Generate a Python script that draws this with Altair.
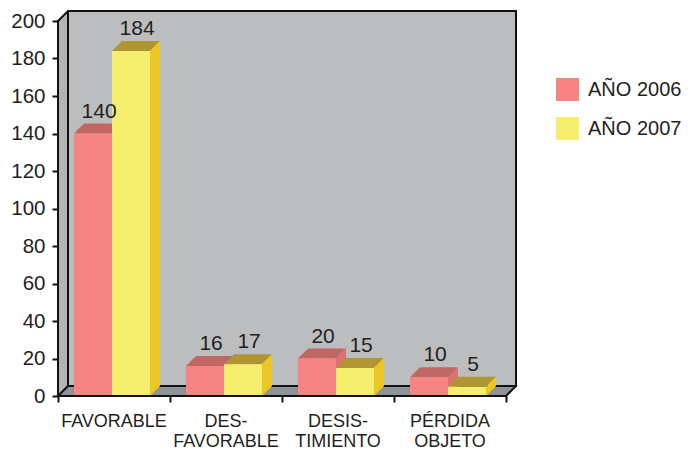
import altair as alt
import pandas as pd

categories = ["FAVORABLE", "DES-\nFAVORABLE", "DESIS-\nTIMIENTO", "PÉRDIDA\nOBJETO"]
series_names = ["AÑO 2006", "AÑO 2007"]
values_2006 = [140, 16, 20, 10]
values_2007 = [184, 17, 15, 5]
y_ticks = list(range(0, 201, 20))

FONT = "Liberation Sans"
INK = "#231F20"
W, H = 458, 385
N = len(categories)
XMAX = W / 112
YMAX = H / 1.875
DX = 10 / 112      # depth of the 3-D projection, in x units
DY = 10 / 1.875    # depth of the 3-D projection, in y units
BW = 38 / 112      # bar width in x units
SHIFT = -0.018

front_cols = {"AÑO 2006": "#F58482", "AÑO 2007": "#F5ED6E"}
top_cols = {"AÑO 2006": "#C26663", "AÑO 2007": "#AF9633"}
side_cols = {"AÑO 2006": "#DB716E", "AÑO 2007": "#EBC726"}

bars, tops, sides, labels = [], [], [], []
for s, vals in zip(series_names, [values_2006, values_2007]):
    k = series_names.index(s)
    for i, v in enumerate(vals):
        x0 = i + 0.5 + SHIFT - BW + k * BW
        x1 = x0 + BW
        key = f"{s}-{i}"
        bars.append(dict(s=s, x0=x0, x1=x1, v=v))
        for x, a, b in [(x0, v, v), (x0 + DX, v + DY, v), (x1, v + DY, v), (x1 + DX, v + DY, v + DY)]:
            tops.append(dict(s=s, key=key, x=x, a=a, b=b))
        for x, a, b in [(x1, v, 0), (x1 + DX, v + DY, DY)]:
            sides.append(dict(s=s, key=key, x=x, a=a, b=b))
        labels.append(dict(s=s, x=(x0 + x1) / 2 + DX / 2 + 0.01, y=v + DY, t=str(v)))

bars = pd.DataFrame(bars)
tops = pd.DataFrame(tops)
sides = pd.DataFrame(sides)
labels = pd.DataFrame(labels)

xs = alt.Scale(domain=[0, XMAX], nice=False, zero=False)
ys = alt.Scale(domain=[0, YMAX], nice=False, zero=False)
x_axis = alt.Axis(values=list(range(N + 1)), labels=False, domain=False, grid=False,
                  tickSize=6, tickWidth=2, tickColor="#111111", title=None)
y_axis = alt.Axis(values=y_ticks, domain=False, grid=False, tickSize=6, tickWidth=2,
                  tickColor="#111111", labelPadding=7, labelFont=FONT, labelFontSize=20.5,
                  labelColor=INK, title=None)
X = lambda f="x": alt.X(f"{f}:Q", scale=xs, axis=x_axis)
Y = lambda f: alt.Y(f"{f}:Q", scale=ys, axis=y_axis)


def poly(points, color, **kw):
    df = pd.DataFrame(points, columns=["x", "a", "b"])
    return alt.Chart(df).mark_area(color=color, interpolate="linear", **kw).encode(
        x=X(), y=Y("a"), y2="b:Q")


def line(points, width=2):
    df = pd.DataFrame(points, columns=["x", "y"]).reset_index()
    return alt.Chart(df).mark_line(color="#111111", strokeWidth=width, strokeCap="square").encode(
        x=X(), y=Y("y"), order="index:Q")


back = poly([(DX, YMAX, DY), (XMAX, YMAX, DY)], "#BBBDBF")
left = poly([(0, 200, 0), (DX, YMAX, DY)], "#B2B4B6")
floor = poly([(0, 0, 0), (DX, DY, 0), (N, DY, 0), (XMAX, DY, DY)], "#8F9496")

frames = [
    line([(0, 200), (DX, YMAX), (XMAX, YMAX), (XMAX, DY), (DX, DY), (DX, YMAX)]),
    line([(0, 0), (DX, DY)]),
    line([(N, 0), (XMAX, DY)]),
]
front_axes = [line([(0, 0), (0, 200)]), line([(0, 0), (N, 0)])]


def faces(s):
    t = alt.Chart(tops[tops.s == s]).mark_area(color=top_cols[s], interpolate="linear").encode(
        x=X(), y=Y("a"), y2="b:Q", detail="key:N")
    d = alt.Chart(sides[sides.s == s]).mark_area(color=side_cols[s], interpolate="linear").encode(
        x=X(), y=Y("a"), y2="b:Q", detail="key:N")
    f = alt.Chart(bars[bars.s == s]).mark_rect().encode(
        x=X("x0"), x2="x1:Q", y=Y("v"), y2=alt.datum(0),
        color=alt.Color("s:N", scale=alt.Scale(domain=series_names,
                                               range=[front_cols[n] for n in series_names]),
                        legend=alt.Legend(
                            title=None, orient="none", legendX=498, legendY=67,
                            symbolType="square", symbolSize=529, symbolStrokeWidth=0,
                            symbolOpacity=1, rowPadding=16, labelFont=FONT, labelFontSize=20,
                            labelColor=INK, labelOffset=9, padding=0, labelLimit=200,
                            symbolOffset=0)))
    return [t, d, f]


value_text = alt.Chart(labels).mark_text(
    font=FONT, fontSize=21, color=INK, baseline="alphabetic", dy=-6
).encode(x=X(), y=Y("y"), text="t:N")

cat_df = pd.DataFrame({"x": [i + 0.5 for i in range(N)], "t": categories})
cat_text = alt.Chart(cat_df).mark_text(
    font=FONT, fontSize=18, color=INK, baseline="alphabetic", lineBreak="\n", lineHeight=20,
    align="center"
).encode(x=X(), y=alt.value(H + 31), text="t:N")

layers = [back, left, floor] + frames + faces("AÑO 2006") + faces("AÑO 2007") + front_axes + [
    value_text, cat_text]

chart = alt.layer(*layers).properties(
    width=W, height=H,
    padding={"left": 50, "top": 3, "right": 166, "bottom": 54},
    autosize=alt.AutoSizeParams(type="none"),
    background="white",
).configure_view(stroke=None)

chart.save("out.html", embed_options={"renderer": "svg", "actions": False})
